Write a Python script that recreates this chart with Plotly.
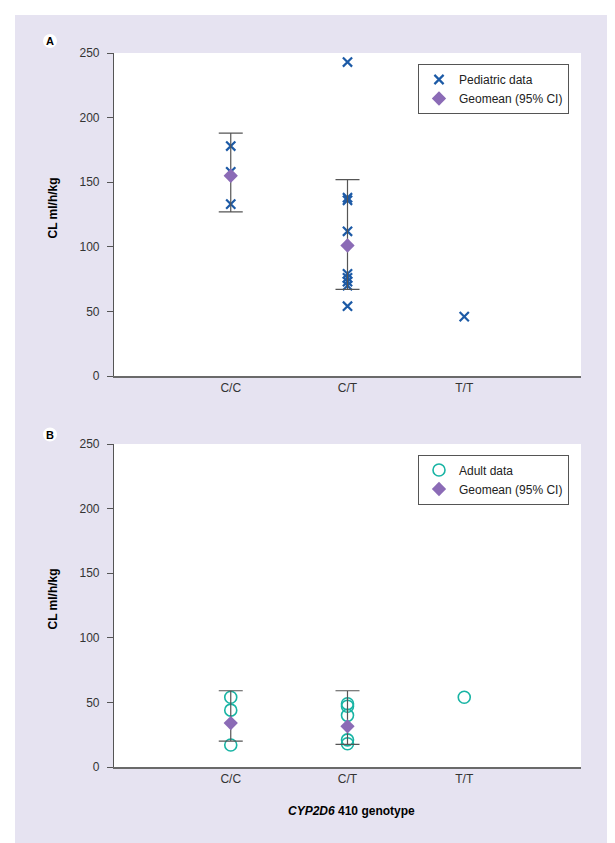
import plotly.graph_objects as go
from plotly.subplots import make_subplots

# ---------------- data ----------------
genotypes = ["C/C", "C/T", "T/T"]
geno_pos = [1, 2, 3]

# Panel A: pediatric clearance (ml/h/kg)
ped_cc = [178, 158, 133]
ped_ct = [243, 138, 136, 112, 79, 76, 73, 70, 54]
ped_tt = [46]
ped_geo = [155, 101]          # C/C, C/T
ped_ci_hi = [188, 152]
ped_ci_lo = [127, 67]

# Panel B: adult clearance (ml/h/kg)
adu_cc = [54, 44, 17]
adu_ct = [49, 47, 40, 21, 18]
adu_tt = [54]
adu_geo = [34, 31.5]
adu_ci_hi = [59, 59]
adu_ci_lo = [20, 17.5]

y_ticks = [0, 50, 100, 150, 200, 250]

# ---------------- style ----------------
FONT = "Arial, 'Liberation Sans', Helvetica, sans-serif"
LAV = "#e6e3f1"
BLUE = "#1c5aa6"
PURPLE = "#8b6bb6"
TEAL = "#18b4a4"
W, H = 615, 843
L, R, T, B = 106, 42, 45, 84
PW, PH = W - L - R, H - T - B


def px(x):
    return (x - L) / PW


def py(y):
    return (H - B - y) / PH


fig = make_subplots(rows=2, cols=1, vertical_spacing=(436 - 368) / PH)
fig.update_layout(
    yaxis=dict(domain=[py(368), 1.0]),
    yaxis2=dict(domain=[0.0, py(436)]),
)


def expand(cats, groups):
    xs, ys = [], []
    for c, g in zip(cats, groups):
        xs += [c] * len(g)
        ys += g
    return xs, ys


xa, ya = expand(geno_pos, [ped_cc, ped_ct, ped_tt])
xb, yb = expand(geno_pos, [adu_cc, adu_ct, adu_tt])

fig.add_trace(go.Scatter(
    x=xa, y=ya, mode="markers", name="Pediatric data", legend="legend",
    marker=dict(symbol="x-thin", size=9.2, line=dict(color=BLUE, width=2.2), color=BLUE),
), row=1, col=1)
fig.add_trace(go.Scatter(
    x=geno_pos[:2], y=ped_geo, mode="markers", name="Geomean (95% CI)", legend="legend",
    marker=dict(symbol="diamond", size=11, color=PURPLE),
    error_y=dict(type="data", symmetric=False,
                 array=[h - g for h, g in zip(ped_ci_hi, ped_geo)],
                 arrayminus=[g - l for g, l in zip(ped_geo, ped_ci_lo)],
                 color="#555555", thickness=1.2, width=12),
), row=1, col=1)

fig.add_trace(go.Scatter(
    x=xb, y=yb, mode="markers", name="Adult data", legend="legend2",
    marker=dict(symbol="circle-open", size=12, line=dict(color=TEAL, width=1.6), color=TEAL),
), row=2, col=1)
fig.add_trace(go.Scatter(
    x=geno_pos[:2], y=adu_geo, mode="markers", name="Geomean (95% CI)", legend="legend2",
    marker=dict(symbol="diamond", size=11, color=PURPLE),
    error_y=dict(type="data", symmetric=False,
                 array=[h - g for h, g in zip(adu_ci_hi, adu_geo)],
                 arrayminus=[g - l for g, l in zip(adu_geo, adu_ci_lo)],
                 color="#555555", thickness=1.2, width=12),
), row=2, col=1)

xax = dict(range=[0, 4], tickvals=geno_pos, ticktext=genotypes, showgrid=False,
           zeroline=False, showline=True, linecolor="#6a6a6a", linewidth=1.5,
           ticks="", tickfont=dict(size=12, color="#333333", family=FONT))
yax = dict(range=[0, 250], tickvals=y_ticks, showgrid=False, zeroline=False,
           showline=True, linecolor="#555555", linewidth=1.2, ticks="outside",
           ticklen=6, tickcolor="#555555", tickwidth=1,
           tickfont=dict(size=12, color="#333333", family=FONT), ticklabelstandoff=5)
fig.update_xaxes(**xax)
fig.update_yaxes(**yax)

legend_style = dict(bgcolor="white", bordercolor="#555555", borderwidth=1,
                    font=dict(size=12, color="#222222", family=FONT),
                    xanchor="left", yanchor="top", tracegroupgap=0,
                    itemsizing="trace")

shapes = []
# white frame around the lavender panel
for x0, x1, y0, y1 in [
    (px(-5), px(7), py(-5), py(H + 5)),
    (px(608), px(W + 5), py(-5), py(H + 5)),
    (px(-5), px(W + 5), py(-5), py(7)),
    (px(-5), px(W + 5), py(836), py(H + 5)),
]:
    shapes.append(dict(type="rect", xref="paper", yref="paper", x0=x0, x1=x1,
                       y0=y0, y1=y1, fillcolor="white", line=dict(width=0), layer="above"))
# white circles for panel letters
for cy in [33, 426.5]:
    shapes.append(dict(type="circle", xref="paper", yref="paper",
                       x0=px(35), x1=px(49), y0=py(cy - 7), y1=py(cy + 7),
                       fillcolor="white", line=dict(width=0), layer="above"))

annotations = []
for letter, cy in [("A", 33), ("B", 426.5)]:
    annotations.append(dict(text="<b>%s</b>" % letter, xref="paper", yref="paper",
                            x=px(42), y=py(cy), showarrow=False,
                            xanchor="center", yanchor="middle",
                            font=dict(size=11, color="black", family=FONT)))
for cy in [200.5, 591.5]:
    annotations.append(dict(text="<b>CL ml/h/kg</b>", xref="paper", yref="paper",
                            x=px(44), y=py(cy), showarrow=False, textangle=-90,
                            xanchor="center", yanchor="middle",
                            font=dict(size=12, color="black", family=FONT)))
annotations.append(dict(text="<b><i>CYP2D6</i> 410 genotype</b>", xref="paper", yref="paper",
                        x=px(343), y=py(803), showarrow=False,
                        xanchor="center", yanchor="middle",
                        font=dict(size=12, color="black", family=FONT)))

fig.update_layout(
    width=W, height=H,
    margin=dict(l=L, r=R, t=T, b=B, pad=0),
    paper_bgcolor=LAV, plot_bgcolor="white",
    font=dict(family=FONT, size=12, color="#333333"),
    legend=dict(x=px(410), y=py(56), **legend_style),
    legend2=dict(x=px(410), y=py(446.5), **legend_style),
    shapes=shapes, annotations=annotations,
)

fig.write_html("out.html")
